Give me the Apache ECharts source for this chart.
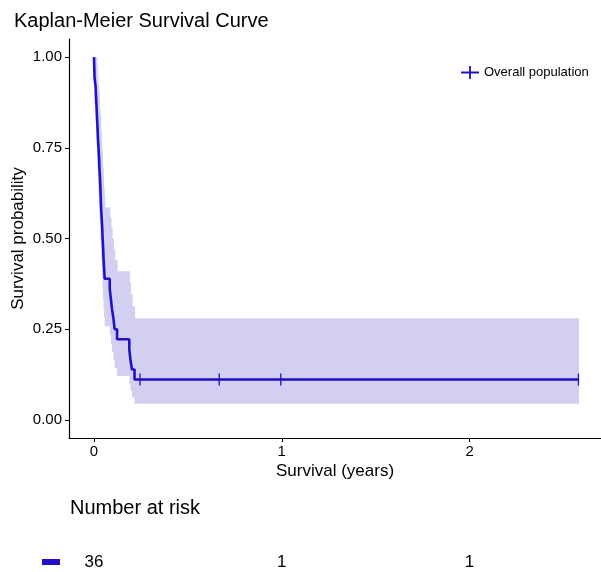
<!DOCTYPE html>
<html>
<head>
<meta charset="utf-8">
<script src="https://cdn.jsdelivr.net/npm/echarts@6/dist/echarts.min.js"></script>
<style>
  html, body { margin: 0; padding: 0; background: #fff; }
  #plot { width: 601px; height: 572px; }
</style>
</head>
<body>
<div id="plot"></div>
<script>
"use strict";

// Kaplan-Meier estimate (time in years).
var stepTimes = [0, 0.003, 0.009, 0.011, 0.014, 0.016, 0.019, 0.021, 0.024, 0.027,
  0.029, 0.032, 0.034, 0.036, 0.038, 0.041, 0.044, 0.046, 0.049, 0.051,
  0.054, 0.057, 0.084, 0.090, 0.096, 0.104, 0.110, 0.123, 0.188, 0.194,
  0.202, 0.216, 2.58];
var survProb = [1, 0.9444, 0.9167, 0.8889, 0.8611, 0.8333, 0.8056, 0.7778, 0.75, 0.7222,
  0.6944, 0.6667, 0.6389, 0.6111, 0.5833, 0.5556, 0.5278, 0.5, 0.4722, 0.4444,
  0.4167, 0.3889, 0.3611, 0.3333, 0.3056, 0.2778, 0.25, 0.2222, 0.1944, 0.1667,
  0.1389, 0.1111, 0.1111];
var lowerCI = [1, 0.8725, 0.8307, 0.7920, 0.7552, 0.7201, 0.6861, 0.6532, 0.6211, 0.5897,
  0.5591, 0.5291, 0.4998, 0.4709, 0.4426, 0.4148, 0.3875, 0.3606, 0.3343, 0.3085,
  0.2831, 0.2582, 0.2338, 0.2100, 0.1867, 0.1640, 0.1420, 0.1206, 0.1000, 0.0803,
  0.0616, 0.0441, 0.0441];
var upperCI = [1, 1, 1, 0.9977, 0.9818, 0.9644, 0.9458, 0.9262, 0.9057, 0.8844,
  0.8625, 0.8399, 0.8168, 0.7930, 0.7688, 0.7441, 0.7189, 0.6932, 0.6671, 0.6404,
  0.6133, 0.5857, 0.5576, 0.5291, 0.5000, 0.4704, 0.4402, 0.4094, 0.3780, 0.3460,
  0.3133, 0.2799, 0.2799];

// Censored observations.
var censorTimes = [0.245, 0.667, 0.995, 2.58];
var censorSurv = [0.1111, 0.1111, 0.1111, 0.1111];

// Number at risk table.
var riskTimes = [0, 1, 2];
var riskCounts = [36, 1, 1];

var xTicks = [0, 1, 2];
var yTicks = [0, 0.25, 0.5, 0.75, 1];

var lineColor = '#2010C8';
var bandColor = '#D3CFF1';
var font = "'Liberation Sans', Arial, sans-serif";

// ggplot-like expansion around the data range.
var xMin = -0.133, xMax = 2.70;
var yMin = -0.05, yMax = 1.05;

var curve = stepTimes.map(function (t, i) { return [t, survProb[i]]; });
var band = [];
for (var i = 0; i < stepTimes.length - 1; i++) {
  band.push([stepTimes[i], stepTimes[i + 1], lowerCI[i], upperCI[i]]);
}
var censors = censorTimes.map(function (t, i) { return [t, censorSurv[i]]; });
var risk = riskTimes.map(function (t, i) { return [t, 0.5, riskCounts[i]]; });

var chart = echarts.init(document.getElementById('plot'), null, { renderer: 'canvas' });

chart.setOption({
  animation: false,
  backgroundColor: '#fff',
  textStyle: { fontFamily: font },
  title: {
    text: 'Kaplan-Meier Survival Curve',
    left: 9,
    top: 6,
    textStyle: { fontSize: 20, fontWeight: 'normal', color: '#000', fontFamily: font }
  },
  legend: {
    data: ['Overall population'],
    left: 456,
    top: 61,
    itemWidth: 18,
    itemHeight: 13,
    icon: 'path://M0,5.6h18v1.8H0z M8.1,0h1.8v13H8.1z',
    textStyle: { fontSize: 13, color: '#000', fontFamily: font }
  },
  grid: [
    { left: 69, right: 0, top: 39, bottom: 134, outerBoundsMode: 'none', containLabel: false },
    { left: 69, right: 0, top: 548, height: 28, outerBoundsMode: 'none', containLabel: false }
  ],
  xAxis: [{
    type: 'value',
    min: xMin,
    max: xMax,
    name: 'Survival (years)',
    nameLocation: 'middle',
    nameGap: 25,
    nameMoveOverlap: false,
    nameTextStyle: { fontSize: 17, color: '#000', fontFamily: font },
    splitLine: { show: false },
    axisLine: { show: true, onZero: false, lineStyle: { color: '#000', width: 1.2 } },
    axisTick: { show: true, length: 4, customValues: xTicks, lineStyle: { color: '#000' } },
    axisLabel: {
      customValues: xTicks,
      fontSize: 15,
      color: '#000',
      margin: 6,
      fontFamily: font
    }
  }, {
    type: 'value',
    gridIndex: 1,
    min: xMin,
    max: xMax,
    show: false
  }],
  yAxis: [{
    type: 'value',
    min: yMin,
    max: yMax,
    name: 'Survival probability',
    nameLocation: 'middle',
    nameGap: 42,
    nameMoveOverlap: false,
    nameTextStyle: { fontSize: 17, color: '#000', fontFamily: font },
    splitLine: { show: false },
    axisLine: { show: true, onZero: false, lineStyle: { color: '#000', width: 1.2 } },
    axisTick: { show: true, length: 4, customValues: yTicks, lineStyle: { color: '#000' } },
    axisLabel: {
      customValues: yTicks,
      fontSize: 15,
      color: '#000',
      margin: 7,
      fontFamily: font,
      formatter: function (v) { return v.toFixed(2); }
    }
  }, {
    type: 'value',
    gridIndex: 1,
    min: 0,
    max: 1,
    show: false
  }],
  graphic: [{
    type: 'text',
    left: 70,
    top: 498,
    style: { text: 'Number at risk', fontSize: 20, fill: '#000', fontFamily: font }
  }, {
    type: 'rect',
    left: 42,
    top: 559,
    shape: { width: 18, height: 6 },
    style: { fill: lineColor }
  }],
  series: [{
    type: 'custom',
    name: 'band',
    silent: true,
    encode: { x: [0, 1], y: [2, 3] },
    data: band,
    z: 1,
    renderItem: function (params, api) {
      var p1 = api.coord([api.value(0), api.value(3)]);
      var p2 = api.coord([api.value(1), api.value(2)]);
      return {
        type: 'rect',
        shape: { x: p1[0], y: p1[1], width: p2[0] - p1[0] + 0.6, height: p2[1] - p1[1] },
        style: { fill: bandColor }
      };
    }
  }, {
    type: 'line',
    name: 'Overall population',
    step: 'end',
    data: curve,
    showSymbol: false,
    z: 3,
    color: lineColor,
    lineStyle: { color: lineColor, width: 2.6 }
  }, {
    type: 'scatter',
    name: 'censor',
    data: censors,
    symbol: 'rect',
    symbolSize: [1.3, 12],
    z: 4,
    itemStyle: { color: lineColor, opacity: 1 }
  }, {
    type: 'scatter',
    name: 'risk',
    xAxisIndex: 1,
    yAxisIndex: 1,
    data: risk,
    symbolSize: 0,
    itemStyle: { opacity: 1 },
    label: {
      show: true,
      position: 'inside',
      fontSize: 17,
      color: '#000',
      fontFamily: font,
      formatter: function (p) { return String(p.value[2]); }
    }
  }]
});
</script>
</body>
</html>
